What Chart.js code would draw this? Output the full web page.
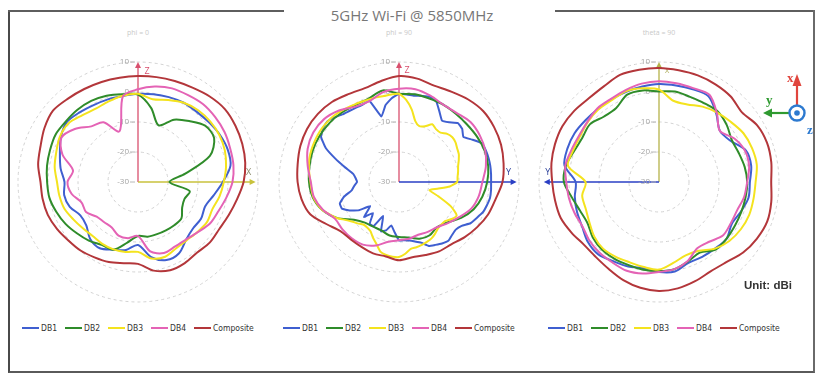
<!DOCTYPE html>
<html>
<head>
<meta charset="utf-8">
<script src="https://cdn.jsdelivr.net/npm/chart.js@4.4.0/dist/chart.umd.min.js"></script>
<style>
  html, body { margin: 0; padding: 0; background: #fff; }
  body { width: 816px; height: 375px; position: relative; overflow: hidden; font-family: "Open Sans", "Liberation Sans", sans-serif; }
  .frame { position: absolute; left: 8px; top: 10px; width: 803px; height: 361px;
           border-left: 2px solid #4a4a4a; border-bottom: 2px solid #5a5a5a; border-right: 2px solid #6a6a6a; }
  .topline { position: absolute; top: 10px; height: 2px; background: #5e5e5e; }
  .title { position: absolute; top: 5px; left: 0; width: 824px; text-align: center; font-size: 15px; color: #777; }
  .sub { position: absolute; top: 28px; width: 120px; text-align: center; font-size: 7px; color: #c9c9c9; }
  canvas { position: absolute; }
  .legend { position: absolute; top: 323px; display: flex; align-items: center; font-family: "DejaVu Sans Condensed", "Liberation Sans Narrow", sans-serif; font-size: 8.5px; color: #333; white-space: nowrap; }
  .legend .item { display: flex; align-items: center; margin-right: 8px; }
  .legend .item:last-child { margin-right: 0; }
  .legend .sw { width: 17px; height: 2px; margin-right: 2px; }
  .unit { position: absolute; left: 744px; top: 279px; font-family: "Liberation Sans", sans-serif; font-weight: bold; font-size: 11.5px; color: #333; }
  svg.icon { position: absolute; left: 756px; top: 62px; }
</style>
</head>
<body>
<div class="frame"></div>
<div class="topline" style="left:8px;width:276px"></div>
<div class="topline" style="left:555px;width:258px"></div>
<div class="title">5GHz Wi-Fi @ 5850MHz</div>
<div class="sub" style="left:78px">phi = 0</div>
<div class="sub" style="left:339px">phi = 90</div>
<div class="sub" style="left:599px">theta = 90</div>

<canvas id="cutPhi0" width="260" height="260" style="left:8px;top:52px"></canvas>
<canvas id="cutPhi90" width="260" height="260" style="left:269px;top:52px"></canvas>
<canvas id="cutTheta90" width="260" height="260" style="left:529px;top:52px"></canvas>

<div class="legend" id="legPhi0"></div>
<div class="legend" id="legPhi90"></div>
<div class="legend" id="legTheta90"></div>

<div class="unit">Unit: dBi</div>

<svg class="icon" width="60" height="80" viewBox="0 0 60 80">
  <line x1="41" y1="44" x2="41" y2="22" stroke="#e0453d" stroke-width="2.2"/>
  <polygon points="41,12 36.5,24 45.5,24" fill="#e0453d"/>
  <text x="31" y="20" font-family="Liberation Serif, DejaVu Serif, serif" font-weight="bold" font-size="13" fill="#e0453d">x</text>
  <line x1="33" y1="51" x2="14" y2="51" stroke="#2f9a30" stroke-width="2.2"/>
  <polygon points="7,51 16,46.5 16,55.5" fill="#2f9a30"/>
  <text x="10" y="42" font-family="Liberation Serif, DejaVu Serif, serif" font-weight="bold" font-size="13" fill="#2f9a30">y</text>
  <circle cx="41" cy="51" r="7.5" fill="#fff" stroke="#2d7ad0" stroke-width="2.4"/>
  <circle cx="41" cy="51" r="2.8" fill="#2d7ad0"/>
  <text x="51" y="72" font-family="Liberation Serif, DejaVu Serif, serif" font-weight="bold" font-size="13" fill="#2d7ad0">z</text>
</svg>

<script>
// ---- series and scale definitions ----
const seriesNames = ['DB1', 'DB2', 'DB3', 'DB4', 'Composite'];
const seriesColors = ['#3f5fd0', '#2f8c2a', '#f4e31e', '#e463b5', '#b3363a'];
const ringTicks = [-30, -20, -10, 0, 10];   // dBi, centre to rim

// angle (deg, clockwise from the axis at the top) for the 10-degree cuts
const angles10 = [0, 10, 20, 30, 40, 50, 60, 70, 80, 90, 100, 110, 120, 130, 140, 150, 160, 170,
                  180, 190, 200, 210, 220, 230, 240, 250, 260, 270, 280, 290, 300, 310, 320, 330, 340, 350];
// 5-degree grid for the phi = 90 cut
const angles5 = [0, 5, 10, 15, 20, 25, 30, 35, 40, 45, 50, 55, 60, 65, 70, 75, 80, 85,
                 90, 95, 100, 105, 110, 115, 120, 125, 130, 135, 140, 145, 150, 155, 160, 165, 170, 175,
                 180, 185, 190, 195, 200, 205, 210, 215, 220, 225, 230, 235, 240, 245, 250, 255, 260, 265,
                 270, 275, 280, 285, 290, 295, 300, 305, 310, 315, 320, 325, 330, 335, 340, 345, 350, 355];

// ---- phi = 0 cut (10 deg steps) ----
const phi0DB1 = [-0.6, -0.3, 0.1, 0.5, 0.5, 0.9, 1.5, 1.8, 1.3, -1.7, -4.4, -6.2, -5.7, -6, -5, -2.6, -2.3, -4.6,
                 -9, -7, -6, -4.5, -5.2, -7.5, -7.8, -5.8, -5, -5.5, -3.8, -2.3, -0.3, 1, 0.3, -0.4, -0.7, -0.9];
const phi0DB2 = [-0.9, -4.9, -9.9, -6, -3.5, -0.8, -0.7, -4.5, -14, -19.5, -12.5, -13.5, -13, -11.1, -11.2, -11.4, -11.5, -11.5,
                 -12, -9.5, -6, -5.8, -4.5, -3.4, -2.1, -1, 0, 0.3, 0.8, 1.2, 1.7, 1.4, 1.4, 1.2, 0.6, -0.3];
const phi0DB3 = [-0.6, -2, -0.9, 0.5, 1.2, 1.4, 1.3, 0.8, -0.2, -1.4, -2.4, -3.6, -3.4, -4.1, -4.7, -4.5, -3.5, -4.1,
                 -6.7, -6.3, -6.1, -6.2, -6.5, -6, -5.1, -3.9, -3.4, -3, -1.8, -1, 0.1, 0.3, -1, -1.8, -1.4, -0.8];
const phi0DB4 = [0.9, 2.3, 3.2, 3.4, 3.8, 3.6, 3.3, 2.7, 2.3, 1.5, -0.1, -1.5, -2.3, -4, -5, -5.2, -4.8, -6.5,
                 -12, -11, -11, -12.5, -12.5, -12, -10, -10, -7.5, -6.5, -8, -3.2, -0.5, -2.5, -5.8, -7, -12, -1];
const phi0Comp = [5.3, 5.5, 5.8, 6.3, 7.2, 7.8, 7.5, 7, 6.3, 5.2, 3.5, 2.2, 1.3, 1.3, 0.7, 1.2, 1.3, 0,
                  -2.7, -2.5, -1.6, -1, -0.2, 0.3, 1.2, 2, 2.3, 2.5, 3.8, 4.6, 6, 7, 6.3, 5.8, 5.5, 5.3];

// ---- phi = 90 cut (5 deg steps; smoother traces sampled every 10 deg) ----
const phi90DB1 = [-0.6, -0.7, -0.8, -0.3, 0.2, -0.5, -3, -5, -4, -2.2, -2.5, -3.8, -1.8, 0.5, 0.8, 0.9, 0.9, 0.8,
                  0.7, 0.8, 0.8, 0.3, -0.3, -1.5, -2.5, -4.5, -5.3, -5, -4.4, -5, -5.8, -6.5, -8.5, -9.5, -10.2, -10.5,
                  -10.5, -13.2, -15.3, -13.3, -12.5, -17.5, -13, -13, -16.5, -13.5, -17.5, -13.5, -11, -9, -9, -11, -14, -15,
                  -16, -15.5, -14.5, -11.5, -7.5, -3, 0, 1, 1.3, 0.5, -0.6, -1.1, -1.4, -1.5, -1.2, -7.4, -4, -2];
const phi90DB2 = [-0.6, null, -0.3, null, -0.4, null, -0.3, null, -0.4, null, -0.3, null, 0.1, null, 0.4, null, 0.2, null,
                  -0.6, null, -1.8, null, -3.5, null, -6.1, null, -9, null, -10.3, null, -9.5, null, -9.9, null, -11.2, null,
                  -11.7, null, -11.9, null, -12.8, null, -12.8, null, -12.3, null, -10.4, null, -6.1, null, -2.8, null, -0.8, null,
                  0, null, 0.3, null, 0.6, null, 0.6, null, 0.4, null, 0, null, -0.5, null, -0.4, null, 1, null];
const phi90DB3 = [-0.6, -2.5, -5.5, -9, -10.2, -9.5, -7.8, -8.5, -8.5, -7.3, -6.8, -7, -7.6, -8, -8.8, -9.6, -10, -10.4,
                  -10.6, -13, -17, -19.5, -16, -11, -7.8, -8.5, -9.8, -10, -9.8, -9, -8.3, -8, -7.7, -7.5, -7.4, -6,
                  -5, -5, -5.3, -6, -8, -9.5, -11, -11.5, -11.5, -10.5, -9.5, -8, -6, -4.5, -2.8, -1.8, -1, -0.7,
                  -0.5, 0, 0.5, 0.9, 1.1, 1.2, 1.3, 1.3, 1.2, 1, 0.6, 0.2, -0.2, -0.5, -0.7, -0.8, -0.9, -0.7];
const phi90DB4 = [1.1, null, 1.4, null, 0.6, null, -0.3, null, 0, null, 1.1, null, 1.1, null, 0.6, null, -0.6, null,
                  -2.2, null, -3, null, -4.3, null, -6.7, null, -8.7, null, -10.3, null, -10.8, null, -11.3, null, -10.8, null,
                  -10.6, null, -9.8, null, -7.5, null, -5.9, null, -5.5, null, -5.4, null, -5.4, null, -3, null, -1.2, null,
                  -0.6, null, 0.9, null, 2.4, null, 3, null, 2.6, null, 1.1, null, -1, null, -1.3, null, 0.4, null];
const phi90Comp = [5.3, null, 5, null, 4.2, null, 4.8, null, 5.9, null, 6.7, null, 6.6, null, 6.2, null, 5.4, null,
                   4.5, null, 2.7, null, 1.6, null, 0.1, null, -1.4, null, -2.9, null, -3.3, null, -4.1, null, -4.5, null,
                   -3.9, null, -4.8, null, -4.7, null, -5, null, -5, null, -4.5, null, -2, null, 1.5, null, 3, null,
                   3.8, null, 4.3, null, 5, null, 5.4, null, 5.3, null, 4.8, null, 3.8, null, 3.3, null, 4.2, null];

// ---- theta = 90 cut (10 deg steps) ----
const theta90DB1 = [2.7, 2.7, 2.9, 3, -0.3, -3.5, -2.5, 0.8, 1.2, 0.3, 0.3, -1, -2, -0.6, -1, -1.2, -1.3, 0.3,
                    0, -0.8, 0, 0.5, 1.5, 1, -0.4, -0.9, -1.5, -2.2, 2, 2.5, 2.5, 2, 1.7, 1.8, 2, 2.3];
const theta90DB2 = [0.2, 0.6, 0.2, 0.3, 0.6, -0.5, -2, -1.7, -1, -0.6, -0.7, -0.8, -0.8, -0.6, -0.6, -2.8, -1.8, -0.5,
                    -0.3, -0.3, -0.5, -0.4, -0.5, -1.2, -2.5, -2, -0.5, 1.7, 1.5, 0.1, -0.5, 0, -1.5, -1.5, 1, 1];
const theta90DB3 = [0.8, -2.5, -2.5, -1, 0.2, 1.2, 2.5, 3, 3.1, 2.2, 2, 2, 1.5, 0.6, -1, -3.5, -4, -2.6,
                    -0.8, -1.2, -1.5, -1.2, -1, -1.8, -3.2, -4, -4, -5.5, 0.8, 0.5, 0.4, 1, 1.5, 1.5, 2.2, 1.7];
const theta90DB4 = [3.6, 3.4, 3.3, 3.6, 0, -3.5, -1, 0.5, 0.5, -0.6, -1.2, -2.3, -2.4, -2.2, -4, -4.5, -2, -0.5,
                    0, 1, 1.5, 1, 0.8, 0.3, -0.5, 0, 0.5, 0.9, 1.7, 1.1, 0.8, 1.2, 2, 2, 2.6, 3.3];
const theta90Comp = [8, 7.8, 7.8, 7.6, 7.2, 6.1, 7.8, 8.3, 8, 7.4, 8, 8.4, 7.7, 6.6, 4.9, 4.4, 5.2, 6,
                     6.3, 5.8, 4.8, 3.5, 2.7, 2.6, 3.7, 4.9, 5.2, 5.6, 6.4, 6.9, 7.2, 6.9, 6.4, 6.8, 8, 8];

// ---- decorations: ring labels and the reference-axis arrows ----
function drawArrow(ctx, x0, y0, x1, y1, color) {
  const a = Math.atan2(y1 - y0, x1 - x0), h = 6, s = 3;
  ctx.strokeStyle = color; ctx.lineWidth = 1.3;
  ctx.beginPath(); ctx.moveTo(x0, y0); ctx.lineTo(x1 - h * 0.6 * Math.cos(a), y1 - h * 0.6 * Math.sin(a)); ctx.stroke();
  ctx.fillStyle = color;
  ctx.beginPath();
  ctx.moveTo(x1, y1);
  ctx.lineTo(x1 - h * Math.cos(a) + s * Math.sin(a), y1 - h * Math.sin(a) - s * Math.cos(a));
  ctx.lineTo(x1 - h * Math.cos(a) - s * Math.sin(a), y1 - h * Math.sin(a) + s * Math.cos(a));
  ctx.closePath(); ctx.fill();
}

const polarDecor = {
  id: 'polarDecor',
  beforeDatasetsDraw(chart, args, opts) {
    const s = chart.scales.r, ctx = chart.ctx;
    const cx = s.xCenter, cy = s.yCenter, R = s.drawingArea;
    ctx.save();
    // reference axes
    for (const ax of opts.axes) {
      const x1 = cx + ax.dx * R * ax.len, y1 = cy + ax.dy * R * ax.len;
      drawArrow(ctx, cx, cy, x1, y1, ax.color);
      ctx.font = '9px "Open Sans", sans-serif';
      ctx.fillStyle = ax.labelColor;
      ctx.textAlign = 'center'; ctx.textBaseline = 'middle';
      ctx.fillText(ax.label, x1 + ax.lx, y1 + ax.ly);
    }
    // ring values along the vertical axis
    ctx.font = '8px "Open Sans", sans-serif';
    ctx.textAlign = 'right'; ctx.textBaseline = 'middle';
    for (const t of s.ticks) {
      const y = cy - s.getDistanceFromCenterForValue(t.value);
      ctx.fillStyle = '#a2a2a2';
      ctx.fillText(String(t.value), cx - 9, y);
      ctx.strokeStyle = '#b8b8b8'; ctx.lineWidth = 1;
      ctx.beginPath(); ctx.moveTo(cx - 8, y); ctx.lineTo(cx - 3, y); ctx.stroke();
    }
    ctx.restore();
  }
};

function buildCut(canvasId, legendId, legendLeft, labels, series, axes, tensions) {
  const datasets = series.map((d, i) => ({
    label: seriesNames[i],
    data: d,
    borderColor: seriesColors[i],
    backgroundColor: seriesColors[i],
    borderWidth: 2,
    fill: false,
    pointRadius: 0,
    pointHoverRadius: 0,
    tension: tensions[i],
    spanGaps: true,
    order: 4 - i
  }));
  new Chart(document.getElementById(canvasId), {
    type: 'radar',
    data: { labels: labels, datasets: datasets },
    options: {
      responsive: false,
      animation: false,
      events: [],
      layout: { padding: 10 },
      plugins: { legend: { display: false }, tooltip: { enabled: false }, polarDecor: { axes: axes } },
      scales: {
        r: {
          min: ringTicks[0],
          max: ringTicks[ringTicks.length - 1],
          ticks: { stepSize: 10, display: false },
          angleLines: { display: false },
          pointLabels: { display: false },
          grid: { circular: true, color: '#d2d2d2', lineWidth: 1 },
          border: { dash: [3, 3] }
        }
      }
    },
    plugins: [polarDecor]
  });
  // legend row under the cut
  const leg = document.getElementById(legendId);
  leg.style.left = legendLeft + 'px';
  seriesNames.forEach((n, i) => {
    const it = document.createElement('span'); it.className = 'item';
    const sw = document.createElement('span'); sw.className = 'sw'; sw.style.background = seriesColors[i];
    const tx = document.createElement('span'); tx.textContent = n;
    it.appendChild(sw); it.appendChild(tx); leg.appendChild(it);
  });
}

buildCut('cutPhi0', 'legPhi0', 22, angles10,
  [phi0DB1, phi0DB2, phi0DB3, phi0DB4, phi0Comp],
  [{ dx: 0, dy: -1, len: 1.0, color: '#d9506e', label: 'Z', labelColor: '#d9506e', lx: 9, ly: 9 },
   { dx: 1, dy: 0, len: 0.98, color: '#c8c23c', label: 'X', labelColor: '#8a8a6a', lx: -7, ly: -10 }],
  [0.3, 0.3, 0.3, 0.3, 0.3]);

buildCut('cutPhi90', 'legPhi90', 283, angles5,
  [phi90DB1, phi90DB2, phi90DB3, phi90DB4, phi90Comp],
  [{ dx: 0, dy: -1, len: 1.0, color: '#d9506e', label: 'Z', labelColor: '#d9506e', lx: 8, ly: 8 },
   { dx: 1, dy: 0, len: 0.98, color: '#2a3fc4', label: 'Y', labelColor: '#2a3f9a', lx: -8, ly: -10 }],
  [0.1, 0.3, 0.2, 0.3, 0.3]);

buildCut('cutTheta90', 'legTheta90', 548, angles10,
  [theta90DB1, theta90DB2, theta90DB3, theta90DB4, theta90Comp],
  [{ dx: 0, dy: -1, len: 1.0, color: '#b5b24a', label: 'x', labelColor: '#b8b870', lx: 8, ly: 8 },
   { dx: -1, dy: 0, len: 0.96, color: '#2a3fc4', label: 'Y', labelColor: '#2a3f9a', lx: 4, ly: -10 }],
  [0.3, 0.3, 0.3, 0.3, 0.3]);
</script>
</body>
</html>
